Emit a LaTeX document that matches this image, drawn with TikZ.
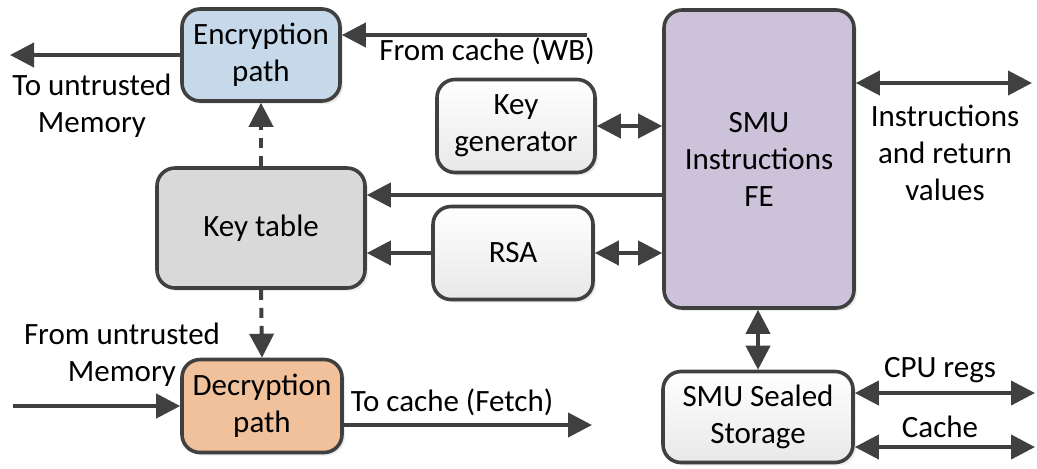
\documentclass[tikz,border=0pt]{standalone}
\usepackage{fontspec}
\setmainfont{Carlito}
\usetikzlibrary{arrows.meta,shadows}
\definecolor{encblue}{HTML}{C6D9EB}
\definecolor{decorange}{HTML}{F0C19A}
\definecolor{smupurple}{HTML}{CCC3DB}
\definecolor{linegray}{HTML}{404040}
\tikzset{
  blk/.style={draw=linegray, line width=1.8pt, rounded corners=9pt, align=center,
    inner sep=0pt, drop shadow={shadow xshift=1.5pt,shadow yshift=-1.5pt,opacity=0.15}},
  plainblk/.style={blk, top color=white, bottom color=black!9},
  arr/.style={draw=linegray, line width=2pt, -{Triangle[length=12pt,width=12pt]}},
  biarr/.style={arr, {Triangle[length=12pt,width=12pt]}-{Triangle[length=12pt,width=12pt]}},
  lbl/.style={align=center}
}
\begin{document}
\begin{tikzpicture}[x=0.5pt,y=-0.5pt,font=\fontsize{15.5}{18.5}\selectfont]
     \useasboundingbox (0,0) rectangle (1037,468);
     % blocks
     \node[blk, fill=encblue, minimum width=79pt, minimum height=46pt] (enc) at (261,55) {Encryption\\path};
     \node[blk, fill=black!15, minimum width=104pt, minimum height=60pt] (keytab) at (261,228) {Key table};
     \node[blk, fill=decorange, minimum width=80pt, minimum height=46.5pt] (dec) at (262,406) {Decryption\\path};
     \node[plainblk, minimum width=79pt, minimum height=46.5pt] (keygen) at (516,126) {Key\\generator};
     \node[plainblk, minimum width=80pt, minimum height=46.5pt] (rsa) at (513,253) {RSA};
     \node[blk, fill=smupurple, minimum width=95pt, minimum height=149pt] (smu) at (759,159) {SMU\\Instructions\\FE};
     \node[plainblk, minimum width=95pt, minimum height=45.5pt] (sealed) at (758,417) {SMU Sealed\\Storage};
     % free ends
     \coordinate (outmem) at (10,55);
     \coordinate (wbin) at (587,35);
     \coordinate (inmem) at (13,406);
     \coordinate (fetch) at (592,425);
     \coordinate (ktin) at (500,195);
     \coordinate (io) at (1032,83);
     \coordinate (regs) at (1035,393);
     \coordinate (cache) at (1035,447);
     % connectors
     \draw[arr] (enc.west) -- (outmem);
     \draw[arr] (wbin) -- (wbin -| enc.east);
     \draw[arr, dash pattern=on 5pt off 4pt] (keytab.north) -- (enc.south);
     \draw[arr, dash pattern=on 5pt off 4pt] (keytab.south) -- (dec.north);
     \draw[arr] (inmem) -- (dec.west);
     \draw[arr] (fetch -| dec.east) -- (fetch);
     \draw[arr] (smu.west |- ktin) -- (keytab.east |- ktin);
     \draw[arr] (rsa.west) -- (keytab.east |- rsa.west);
     \draw[biarr] (rsa.east) -- (smu.west |- rsa.east);
     \draw[biarr] (keygen.east) -- (smu.west |- keygen.east);
     \draw[biarr] (smu.east |- io) -- (io);
     \draw[biarr] (sealed.north |- smu.south) -- (sealed.north);
     \draw[biarr] (sealed.east |- regs) -- (regs);
     \draw[biarr] (sealed.east |- cache) -- (cache);
     % labels
     \node[lbl] (outmemlbl) at (92,106) {To untrusted\\Memory};
     \node[lbl] (wblbl) at (487,51) {From cache (WB)};
     \node[lbl] (inmemlbl) at (122,355) {From untrusted\\Memory};
     \node[lbl] (fetchlbl) at (452,402) {To cache (Fetch)};
     \node[lbl] (iolbl) at (945,153) {Instructions\\and return\\values};
     \node[lbl] (regslbl) at (940,370) {CPU regs};
     \node[lbl] (cachelbl) at (940,427) {Cache};
   \end{tikzpicture}
\end{document}
